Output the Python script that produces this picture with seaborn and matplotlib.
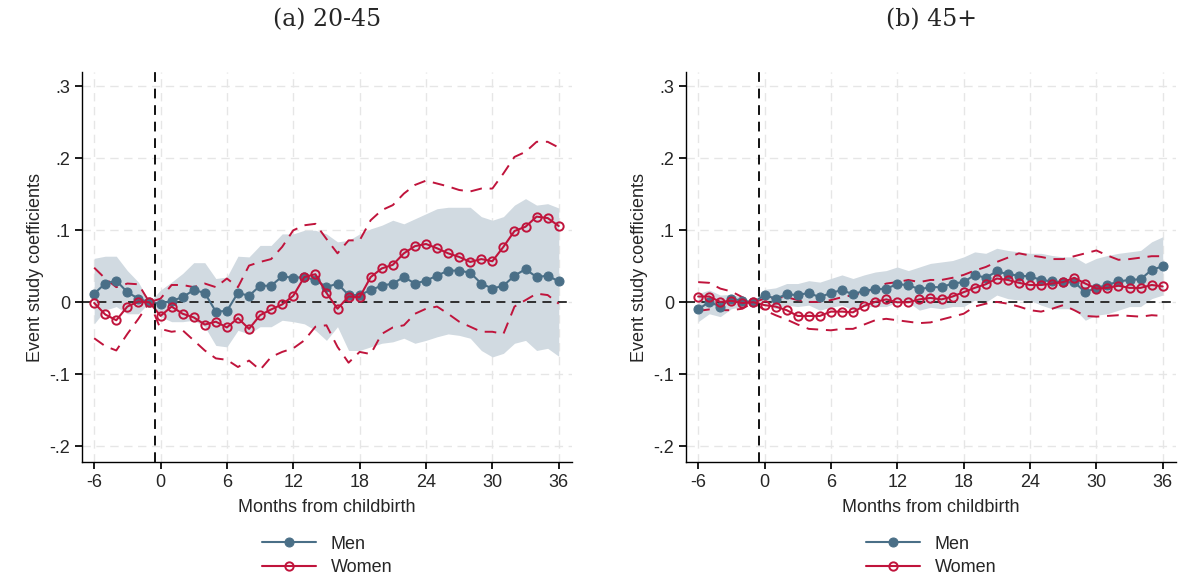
import matplotlib
matplotlib.use("Agg")
import matplotlib.pyplot as plt
import numpy as np
import seaborn as sns

months = list(range(-6, 37))

# (a) 20-45
men_a = [.012, .026, .03, .014, .005, 0, -.002, .002, .007, .017, .013, -.013, -.012, .013, .009, .023, .023,
         .036, .034, .035, .031, .021, .026, .01, .01, .017, .023, .026, .035, .026, .03, .037, .044, .044,
         .041, .026, .019, .023, .037, .046, .035, .037, .029]
men_a_hi = [.061, .064, .064, .044, .028, 0, .017, .028, .04, .055, .055, .033, .035, .064, .063, .079, .079,
            .095, .095, .1, .1, .095, .084, .086, .095, .102, .107, .114, .109, .116, .123, .13, .132, .132,
            .132, .119, .114, .119, .135, .144, .135, .137, .131]
men_a_lo = [-.03, -.011, -.006, -.016, -.016, 0, -.02, -.027, -.027, -.025, -.034, -.06, -.062, -.039, -.044,
            -.034, -.034, -.025, -.027, -.03, -.039, -.053, -.034, -.067, -.067, -.062, -.057, -.055, -.05,
            -.057, -.053, -.048, -.044, -.046, -.05, -.067, -.076, -.071, -.057, -.053, -.067, -.064, -.075]
women_a = [-.001, -.017, -.025, -.006, .001, 0, -.019, -.006, -.016, -.021, -.031, -.027, -.035, -.022, -.037,
           -.018, -.01, -.003, .009, .035, .039, .013, -.009, .008, .007, .035, .047, .052, .068, .078, .081,
           .075, .068, .063, .056, .06, .057, .077, .099, .105, .119, .117, .106]
women_a_hi = [.048, .033, .021, .026, .025, 0, .005, .024, .024, .021, .026, .021, .033, .021, .051, .056, .06,
              .077, .1, .107, .109, .088, .068, .086, .086, .114, .128, .135, .151, .163, .169, .165, .161,
              .156, .154, .158, .158, .179, .202, .209, .223, .223, .215]
women_a_lo = [-.05, -.061, -.067, -.044, -.023, 0, -.037, -.041, -.039, -.053, -.067, -.078, -.08, -.09, -.081,
              -.094, -.076, -.069, -.064, -.053, -.034, -.032, -.062, -.084, -.069, -.072, -.044, -.035, -.032,
              -.016, -.009, -.006, -.016, -.027, -.034, -.041, -.041, -.044, -.006, .003, .012, .01, -.002]

# (b) 45+
men_b = [-.01, .0005, -.006, .005, .002, 0, .01, .005, .011, .01, .013, .007, .013, .017, .011, .016, .018,
         .019, .025, .024, .018, .021, .021, .026, .028, .038, .034, .043, .039, .037, .036, .031, .029, .028,
         .028, .014, .02, .024, .029, .031, .032, .045, .05]
men_b_hi = [.012, .017, .01, .011, .007, 0, .018, .02, .026, .026, .03, .028, .033, .038, .033, .038, .042, .044,
            .049, .044, .049, .054, .056, .058, .063, .07, .068, .075, .072, .07, .068, .068, .065, .063, .063,
            .054, .061, .065, .068, .07, .072, .084, .091]
men_b_lo = [-.027, -.016, -.02, -.009, -.006, 0, 0, -.009, -.004, -.006, -.004, -.011, -.007, -.004, -.011,
            -.006, -.006, -.006, 0, 0, -.011, -.007, -.009, -.006, -.006, .003, 0, .01, .005, .003, .003, -.004,
            -.009, -.009, -.009, -.025, -.018, -.016, -.011, -.006, -.006, .005, .01]
women_b = [.008, .008, .0005, .002, -.001, 0, -.004, -.006, -.011, -.019, -.019, -.019, -.013, -.013, -.014,
           -.005, .0005, .004, 0, 0, .004, .006, .004, .008, .014, .02, .025, .033, .031, .027, .024, .024,
           .026, .028, .034, .026, .019, .02, .023, .02, .02, .024, .022]
women_b_hi = [.028, .027, .019, .015, .007, 0, .005, .007, .007, .003, .0005, .0005, .003, .007, .01, .014,
              .019, .026, .028, .031, .028, .031, .031, .034, .038, .044, .049, .056, .062, .068, .065, .063,
              .06, .06, .064, .068, .072, .065, .059, .06, .062, .064, .064]
women_b_lo = [-.012, -.01, -.011, -.011, -.009, 0, -.011, -.018, -.024, -.031, -.037, -.038, -.039, -.037,
              -.037, -.031, -.025, -.023, -.025, -.027, -.029, -.028, -.024, -.02, -.016, -.006, -.002, .0005,
              -.002, -.006, -.011, -.013, -.009, -.004, -.011, -.019, -.02, -.019, -.018, -.019, -.02, -.018,
              -.019]

panels = [
    ("(a) 20-45", men_a, men_a_lo, men_a_hi, women_a, women_a_lo, women_a_hi),
    ("(b) 45+", men_b, men_b_lo, men_b_hi, women_b, women_b_lo, women_b_hi),
]

MEN = "#4a6f87"
BAND = "#d1dae1"
WOMEN = "#c0143c"

sns.set_theme(style="white")
plt.rcParams["font.family"] = ["Liberation Sans", "DejaVu Sans"]
plt.rcParams["axes.unicode_minus"] = False

fig = plt.figure(figsize=(11.82, 5.88), dpi=100)
lefts = [82 / 1182, 686 / 1182]
for left, (title, m, mlo, mhi, w, wlo, whi) in zip(lefts, panels):
    ax = fig.add_axes([left, 1 - 462 / 588, 490 / 1182, 390 / 588])
    ax.fill_between(months, mlo, mhi, color=BAND, lw=0, zorder=1)
    sns.lineplot(x=months, y=m, ax=ax, color=MEN, marker="o", markersize=6.5,
                 markeredgecolor=MEN, lw=1.5, label="Men", zorder=4)
    sns.lineplot(x=months, y=w, ax=ax, color=WOMEN, marker="o", markersize=6,
                 markerfacecolor="none", markeredgecolor=WOMEN, markeredgewidth=1.4,
                 lw=1.5, label="Women", zorder=5)
    ax.plot(months, whi, color=WOMEN, ls=(0, (6, 4)), lw=1.4, zorder=3)
    ax.plot(months, wlo, color=WOMEN, ls=(0, (6, 4)), lw=1.4, zorder=3)
    ax.axhline(0, color="#222222", ls=(0, (5, 3.5)), lw=1.3, zorder=2)
    ax.axvline(-0.5, color="#111111", ls=(0, (5, 3.5)), lw=1.4, zorder=6)
    ax.set_xlim(-7.1, 37.2)
    ax.set_ylim(-0.222, 0.32)
    ax.set_xticks([-6, 0, 6, 12, 18, 24, 30, 36])
    ax.set_yticks([-.2, -.1, 0, .1, .2, .3])
    ax.set_yticklabels(["-.2", "-.1", "0", ".1", ".2", ".3"])
    ax.grid(True, color="#e6e6e6", ls=(0, (6, 4)), lw=1)
    for s in ["top", "right"]:
        ax.spines[s].set_visible(False)
    for s in ["left", "bottom"]:
        ax.spines[s].set_color("black")
        ax.spines[s].set_linewidth(1)
    ax.tick_params(axis="both", length=5, color="black", labelsize=13, direction="out",
                   bottom=True, left=True)
    ax.set_xlabel("Months from childbirth", fontsize=13, labelpad=6)
    ax.set_ylabel("Event study coefficients", fontsize=13)
    cx = left + 245 / 1182
    fig.text(cx, 1 - 20 / 588, title, ha="center", va="center", fontsize=17, family="DejaVu Serif")
    ax.legend(loc="upper center", bbox_to_anchor=(0.5, -0.17), frameon=False, fontsize=13,
              handlelength=3, labelspacing=0.35, borderaxespad=0)

fig.savefig("out.png", dpi=100)
